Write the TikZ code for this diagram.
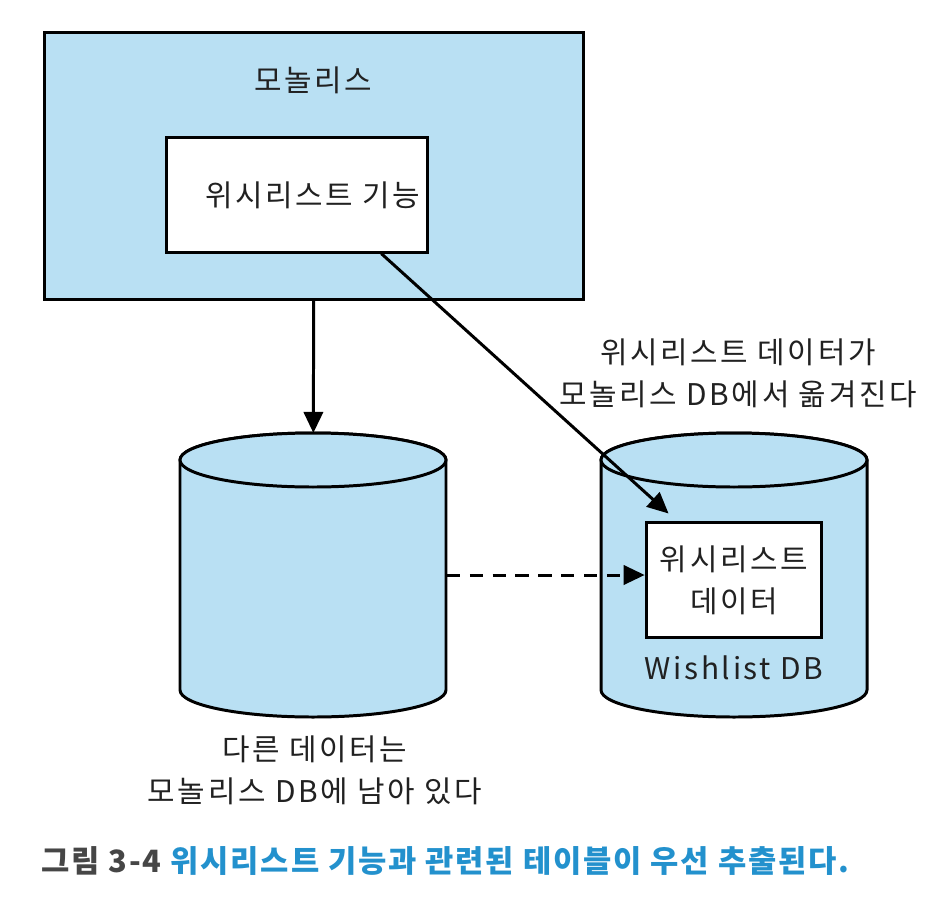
\documentclass[tikz,border=0pt]{standalone}
\usepackage{fontspec}
\setmainfont{Noto Sans CJK KR}[LetterSpace=9]
\usepackage{tikz}
\usetikzlibrary{arrows.meta,positioning}
\definecolor{dbblue}{RGB}{185,224,243}
\definecolor{capblue}{RGB}{35,145,205}
\definecolor{capgray}{RGB}{70,70,70}

\begin{document}
\begin{tikzpicture}[
    x=0.02cm, y=-0.02cm,
    >={Triangle[length=12pt, width=11pt]},
    line width=1.7pt,
    font=\fontsize{17pt}{24pt}\selectfont,
    block/.style={
		rectangle,
		draw=black,
		fill=white,
		inner sep=0pt
	},
	dbspace/.style={
		rectangle,
		inner sep=0pt,
		minimum width=150.8pt,
		minimum height=160pt
	},
	drum/.style={
		draw=black,
		fill=dbblue
	},
	label/.style={
		align=center,
		text=black!87
	}
  ]
  \useasboundingbox (0,0) rectangle (926,906);

    % We start by placing the blocks
  \node [block, fill=dbblue, minimum width=307pt, minimum height=152pt] (monolith) at (314,166) {};
  \node [label] (monotitle) at (313,80) {모놀리스};
  \node [block, minimum width=148.5pt, minimum height=65pt] (wishfn) at (297,195) {};
  \node [label, xshift=9pt] at (wishfn) {위시리스트 기능};

  % the two databases
  \node [dbspace] (otherdb) at (313,575) {};
  \draw [drum] (180,460) -- (180,690) arc [start angle=180, end angle=0, x radius=133, y radius=27]
    -- (446,460) arc [start angle=0, end angle=-180, x radius=133, y radius=27] -- cycle;
  \draw [drum] (313,460) ellipse [x radius=133, y radius=27];

  \node [dbspace] (wishdb) at (734,575) {};
  \draw [drum] (601,460) -- (601,690) arc [start angle=180, end angle=0, x radius=133, y radius=27]
    -- (867,460) arc [start angle=0, end angle=-180, x radius=133, y radius=27] -- cycle;
  \draw [drum] (734,460) ellipse [x radius=133, y radius=27];

  \node [block, minimum width=100pt, minimum height=65pt] (wishdata) at (734,580) {};
  \node [label] at (wishdata) {위시리스트\\데이터};
  \node [label] (wishdbname) at (734,668) {Wishlist DB};

  \node [label] (otherlabel) at (315,770) {다른 데이터는\\모놀리스 DB에 남아 있다};
  \node [label] (movelabel) at (738,373) {위시리스트 데이터가\\모놀리스 DB에서 옮겨진다};

  % connectors
  \draw [->] (monolith) -- (otherdb);
  \draw [->] ([xshift=48pt]wishfn.south) -- ([xshift=13.6pt, yshift=4.5pt]wishdata.north west);
  \draw [->, dash pattern=on 7.5pt off 5.5pt] (otherdb.east) -- (otherdb.east -| wishdata.west);

  % caption
  \node [anchor=west, inner sep=0pt, font=\fontsize{17.5pt}{20pt}\selectfont\bfseries\addfontfeatures{LetterSpace=6}] (caption) at (40,861)
   {\textcolor{capgray}{그림 3-4} \textcolor{capblue}{위시리스트 기능과 관련된 테이블이 우선 추출된다.}};

\end{tikzpicture}
\end{document}
